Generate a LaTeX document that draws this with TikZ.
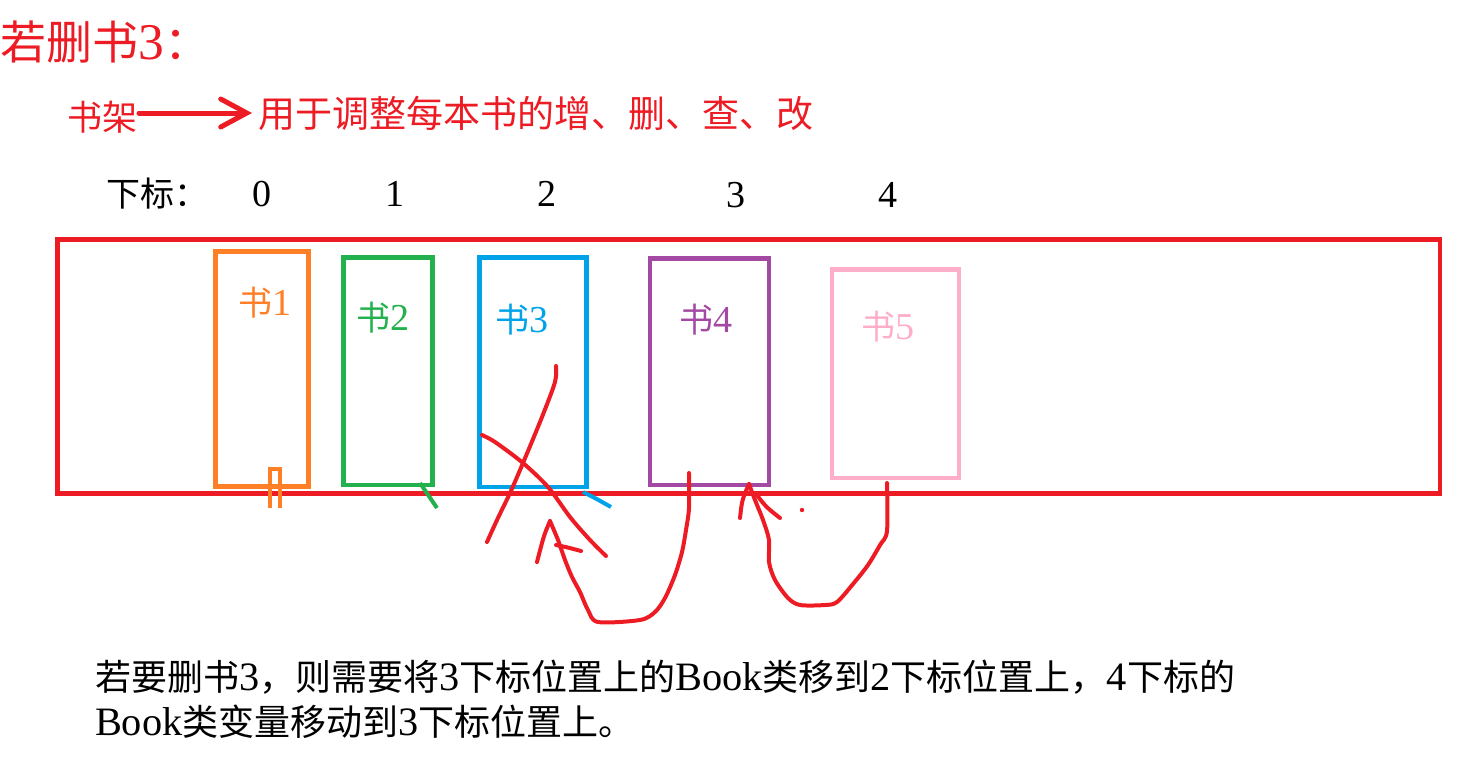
\documentclass[tikz,border=0pt]{standalone}
\usepackage{fontspec}
\setmainfont{Noto Sans CJK SC}
\newfontfamily\latf[Scale=1.12]{Liberation Serif}
\usetikzlibrary{arrows.meta}
\definecolor{pred}{HTML}{ED1C24}
\definecolor{porange}{HTML}{FF7F27}
\definecolor{pgreen}{HTML}{22B14C}
\definecolor{pblue}{HTML}{00A2E8}
\definecolor{ppurple}{HTML}{A349A4}
\definecolor{ppink}{HTML}{FFAEC9}
\newcommand\fsz[1]{\fontsize{#1pt}{#1pt}\selectfont}
\tikzset{
  lbl/.style={inner sep=0pt, outer sep=0pt},
  bookbox/.style={draw, line width=4.5pt, inner sep=0pt, outer sep=0pt},
  pen/.style={pred, line width=4pt, line cap=round, line join=round},
}
\begin{document}
\begin{tikzpicture}[x=1pt, y=-1pt]
\useasboundingbox (0,0) rectangle (1469,761);
% title and header
\node[lbl, anchor=west, text=pred, font={\fsz{46}}] (title) at (1,42) {若删书{\latf 3}：};
\node[lbl, anchor=west, text=pred, font={\fsz{35}}] (jia) at (67,117) {书架};
\node[lbl, anchor=west, text=pred, font={\fsz{37}}] (use) at (258,113) {用于调整每本书的增、删、查、改};
\draw[pred, line width=5pt, line cap=round, -{Straight Barb[length=26pt, width=28pt, line cap=round]}]
  ([xshift=2pt]jia.east |- use.west) -- ([xshift=-6pt]use.west);
% indices
\node[lbl, anchor=west, font={\fsz{34}}] (idxlbl) at (106,194) {下标：};
\node[lbl, font={\fsz{34}\latf}] (idx0) at (262,194) {0};
\node[lbl, font={\fsz{34}\latf}] (idx1) at (395,194) {1};
\node[lbl, font={\fsz{34}\latf}] (idx2) at (547,194) {2};
\node[lbl, font={\fsz{34}\latf}] (idx3) at (736,195) {3};
\node[lbl, font={\fsz{34}\latf}] (idx4) at (888,195) {4};
% shelf
\node[bookbox, draw=pred, minimum width=1382.5pt, minimum height=253.8pt] (shelf) at (748.75,366.4) {};
% books
\node[bookbox, draw=porange, minimum width=93pt, minimum height=235pt] (b1) at (262,369) {};
\node[bookbox, draw=pgreen, minimum width=89pt, minimum height=227.5pt] (b2) at (388,371.25) {};
\node[bookbox, draw=pblue, minimum width=107pt, minimum height=229.5pt] (b3) at (533,372.25) {};
\node[bookbox, draw=ppurple, minimum width=119pt, minimum height=226.5pt] (b4) at (709.5,371.75) {};
\node[bookbox, draw=ppink, minimum width=127pt, minimum height=208.5pt] (b5) at (895.5,373.75) {};
\node[lbl, text=porange, font={\fsz{34}}] (t1) at (265,303) {书{\latf 1}};
\node[lbl, text=pgreen, font={\fsz{34}}] (t2) at (383,318) {书{\latf 2}};
\node[lbl, text=pblue, font={\fsz{34}}] (t3) at (522,320) {书{\latf 3}};
\node[lbl, text=ppurple, font={\fsz{34}}] (t4) at (706,320) {书{\latf 4}};
\node[lbl, text=ppink, font={\fsz{34}}] (t5) at (888,327) {书{\latf 5}};
% small marks under books
\draw[porange, line width=4pt] (270,508) -- (270,469) -- (279.5,469) -- (279.5,508);
\draw[pgreen, line width=4pt] (420,483) -- (437,508);
\draw[pblue, line width=4pt] (583,492) .. controls (595,498) .. (611,507);
% cross-out of book 3
\draw[pen] plot[smooth, tension=0.5] coordinates {(556,366) (555,382) (542,417) (523,463) (510,493) (497,520) (487,542)};
\draw[pen] plot[smooth, tension=0.5] coordinates {(482,435) (495,442) (523,463) (548,487) (570,517) (590,540) (606,556)};
% move book 4 -> slot 2
\coordinate (s4) at (689,473);
\coordinate (e3) at (550,521);
\draw[pen] plot[smooth, tension=0.5] coordinates {(s4) (689,508) (686,530) (682,552) (675,575) (665,598) (655,612) (640,620) (598,622) (588,610) (580,592) (572,577) (565,560) (558,540) (e3)};
\draw[pen] (e3) .. controls (544,535) .. (537,562);
\draw[pen] (556,545) .. controls (566,547) .. (581,551);
% move book 5 -> slot 3
\coordinate (s5) at (887,483);
\coordinate (e4) at (749,484);
\draw[pen] plot[smooth, tension=0.5] coordinates {(s5) (887,531) (880,545) (868,565) (853,584) (837,602) (825,605) (800,605) (788,598) (775,580) (769,562) (769,540) (763,520) (755,500) (e4)};
\draw[pen] (e4) .. controls (742,500) .. (740,518);
\draw[pen] (756,494) .. controls (766,507) .. (780,518);
\fill[pred] (802,510) circle (2.2);
% explanation
\node[lbl, anchor=west, font={\fsz{36}}] (exp1) at (95,677) {若要删书{\latf 3}，则需要将{\latf 3}下标位置上的{\latf Book}类移到{\latf 2}下标位置上，{\latf 4}下标的};
\node[lbl, anchor=west, font={\fsz{36}}] (exp2) at (95,722) {{\latf Book}类变量移动到{\latf 3}下标位置上。};
\end{tikzpicture}
\end{document}
